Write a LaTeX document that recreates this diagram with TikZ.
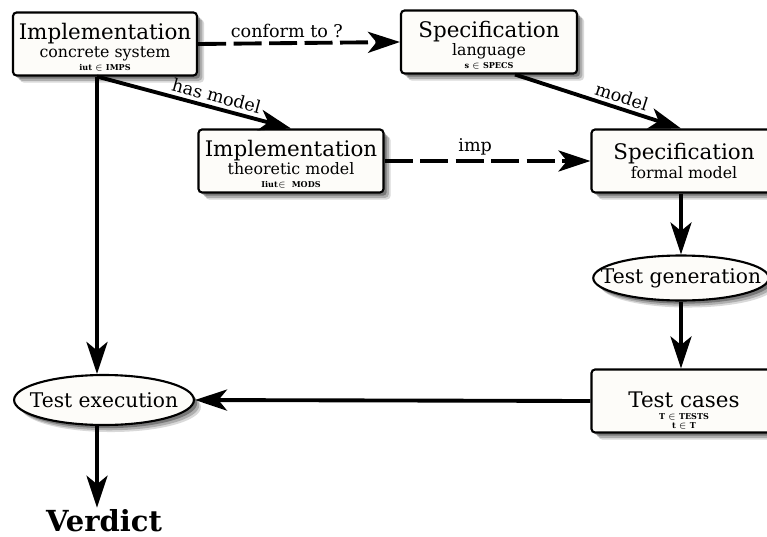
\documentclass[tikz,border=0pt]{standalone}
\usepackage{fontspec}
\setmainfont{DejaVu Serif}
\usepackage{tikz}
\usetikzlibrary{arrows.meta,shapes,shadows,positioning}

\definecolor{boxfill}{RGB}{253,252,249}

\newcommand{\boxtitle}[1]{{\fontsize{12.2}{13}\selectfont #1}}
\newcommand{\boxsub}[1]{{\fontsize{9}{9.5}\selectfont #1}}
\newcommand{\boxset}[1]{{\fontsize{4.6}{5}\selectfont\bfseries #1}}

\begin{document}
\begin{tikzpicture}[x=0.02cm,y=-0.02cm]
	\tikzstyle{softshadow}=[
		drop shadow={shadow xshift=4pt,shadow yshift=-4pt,fill=black,opacity=0.15},
		drop shadow={shadow xshift=3pt,shadow yshift=-3pt,fill=black,opacity=0.2},
		drop shadow={shadow xshift=1.8pt,shadow yshift=-1.8pt,fill=black,opacity=0.3}]
	\tikzstyle{blk}=[draw,line width=1.2pt,rounded corners=2pt,fill=boxfill,softshadow,
		minimum width=3.6cm,minimum height=1.26cm,inner sep=1pt,align=center,
		font=\fontsize{9}{10}\selectfont]
	\tikzstyle{ell}=[ellipse,draw,line width=1.2pt,fill=boxfill,softshadow,
		inner ysep=0pt,font=\fontsize{11.5}{12}\selectfont]
	\tikzstyle{ln}=[draw,line width=2.2pt,-{Stealth[length=0.64cm,width=0.42cm,inset=0.17cm]}]
	\tikzstyle{lnd}=[ln,dash pattern=on 0.56cm off 0.15cm]
	\tikzstyle{lbl}=[font=\fontsize{10}{11}\selectfont,inner sep=2pt]

	\useasboundingbox (0,0) rectangle (767,537);

	%% boxes
	\node [blk,minimum width=3.68cm] (ic) at (105,44)
		{\rule{0pt}{13pt}\boxtitle{Implementation}\\[0.3pt]\boxsub{concrete system}\\[-2.5pt]\boxset{iut $\in$ IMPS}};
	\node [blk,minimum width=3.52cm] (sl) at (489,42)
		{\rule{0pt}{13pt}\boxtitle{Specification}\\[0.3pt]\boxsub{language}\\[-2.5pt]\boxset{s $\in$ SPECS}};
	\node [blk,minimum width=3.7cm] (it) at (291,161)
		{\rule{0pt}{13pt}\boxtitle{Implementation}\\[0.3pt]\boxsub{theoretic model}\\[-2.5pt]\boxset{Iiut$\in$ \ MODS}};
	\node [blk,minimum width=3.7cm] (sf) at (684,161)
		{\boxtitle{Specification}\\[0.3pt]\boxsub{formal model}};
	\node [ell,inner xsep=-0.36cm,minimum height=0.9cm] (tg) at (681,278) {Test generation};
	\node [blk,minimum width=3.7cm] (tc) at (684,401)
		{\rule{0pt}{20pt}\boxtitle{Test cases}\\[-3.5pt]\boxset{T $\in$ TESTS}\\[-4.5pt]\boxset{t $\in$ T}};
	\node [ell,inner xsep=-0.21cm,minimum height=1cm] (te) at (104,400) {Test execution};
	\node [font=\fontsize{16.5}{17}\selectfont\bfseries,inner sep=1pt] (vd) at (104,521) {Verdict};

	\coordinate (ics) at ([xshift=-0.16cm]ic.south);
	\coordinate (sls) at ([xshift=0.52cm]sl.south);

	%% connectors
	\draw [lnd] (ic.east) -- node[lbl,above,pos=0.44] {conform to ?} (sl.west);
	\draw [ln] (ics) -- node[lbl,above,sloped,pos=0.6] {has model} (it.north);
	\draw [ln] (sls) -- node[lbl,above,sloped,pos=0.62] {model} (sf.north -| tg.north);
	\draw [lnd] (it.east) -- node[lbl,above,pos=0.44] {imp} (sf.west);
	\draw [ln] (sf.south -| tg.north) -- (tg.north);
	\draw [ln] (tg.south) -- (tg.south |- tc.north);
	\draw [ln] (tc.west) -- (te.east);
	\draw [ln] (ics) -- (ics |- te.north);
	\draw [ln] (te.south -| ics) -- (vd.north -| ics);
\end{tikzpicture}
\end{document}
